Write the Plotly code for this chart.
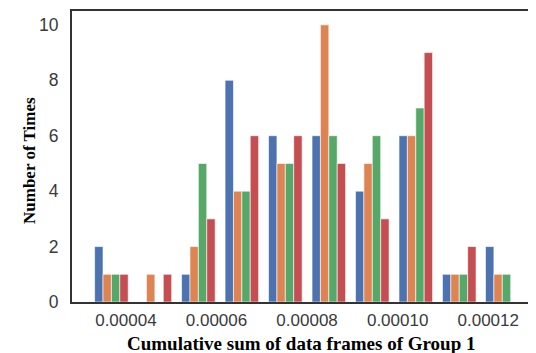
import plotly.graph_objects as go

# bin centres
bin_centers = [3.68e-5, 4.64e-5, 5.60e-5, 6.56e-5, 7.52e-5, 8.48e-5, 9.44e-5, 10.40e-5, 11.36e-5, 12.31e-5]

series_blue = [2, 0, 1, 8, 6, 6, 4, 6, 1, 2]
series_orange = [1, 1, 2, 4, 5, 10, 5, 6, 1, 1]
series_green = [1, 0, 5, 4, 5, 6, 6, 7, 1, 1]
series_red = [1, 1, 3, 6, 6, 5, 3, 9, 2, 0]

x_tick_vals = [4e-5, 6e-5, 8e-5, 10e-5, 12e-5]
y_tick_vals = [0, 2, 4, 6, 8, 10]

x_title = "<b>Cumulative sum of data frames of Group 1</b>"
y_title = "<b>Number of Times</b>"

colors = ["#4C72B0", "#DD8452", "#55A868", "#C44E52"]
all_series = [series_blue, series_orange, series_green, series_red]

fig = go.Figure()
for vals, col in zip(all_series, colors):
    fig.add_trace(go.Bar(
        x=bin_centers, y=vals,
        marker=dict(color=col, line=dict(color="white", width=0.6)),
        showlegend=False,
    ))

serif = "Liberation Serif, Times New Roman, serif"
fig.update_layout(
    width=528, height=345,
    margin=dict(l=64, r=2, t=1, b=51),
    barmode="group", bargap=0.22, bargroupgap=0,
    plot_bgcolor="white", paper_bgcolor="white",
    font=dict(family="Liberation Sans, Arial, sans-serif", color="#3a3a3a"),
)
fig.update_xaxes(
    range=[2.81e-5, 13.01e-5],
    tickvals=x_tick_vals, tickformat=".5f",
    tickfont=dict(size=17, color="#3a3a3a"),
    showgrid=False, zeroline=False,
    showline=True, linecolor="#333333", linewidth=2, mirror=True,
    ticks="", ticklabelstandoff=2,
)
fig.update_yaxes(
    range=[0, 10.5],
    tickvals=y_tick_vals,
    tickfont=dict(size=17.5, color="#3a3a3a"),
    showgrid=False, zeroline=False,
    showline=True, linecolor="#333333", linewidth=2, mirror=False,
    ticks="", ticklabelstandoff=8,
)
fig.add_shape(type="line", xref="paper", yref="paper", x0=1, x1=1, y0=0, y1=1,
              line=dict(color="#dddddd", width=1))
fig.add_annotation(text=x_title, xref="paper", yref="paper", x=0.4957, y=-0.1433,
                   xanchor="center", yanchor="middle", showarrow=False,
                   font=dict(family=serif, size=19, color="black"))
fig.add_annotation(text=y_title, xref="paper", yref="paper", x=-0.0909, y=0.4846,
                   xanchor="center", yanchor="middle", showarrow=False, textangle=-90,
                   font=dict(family=serif, size=17, color="black"))

fig.write_html("out.html")
